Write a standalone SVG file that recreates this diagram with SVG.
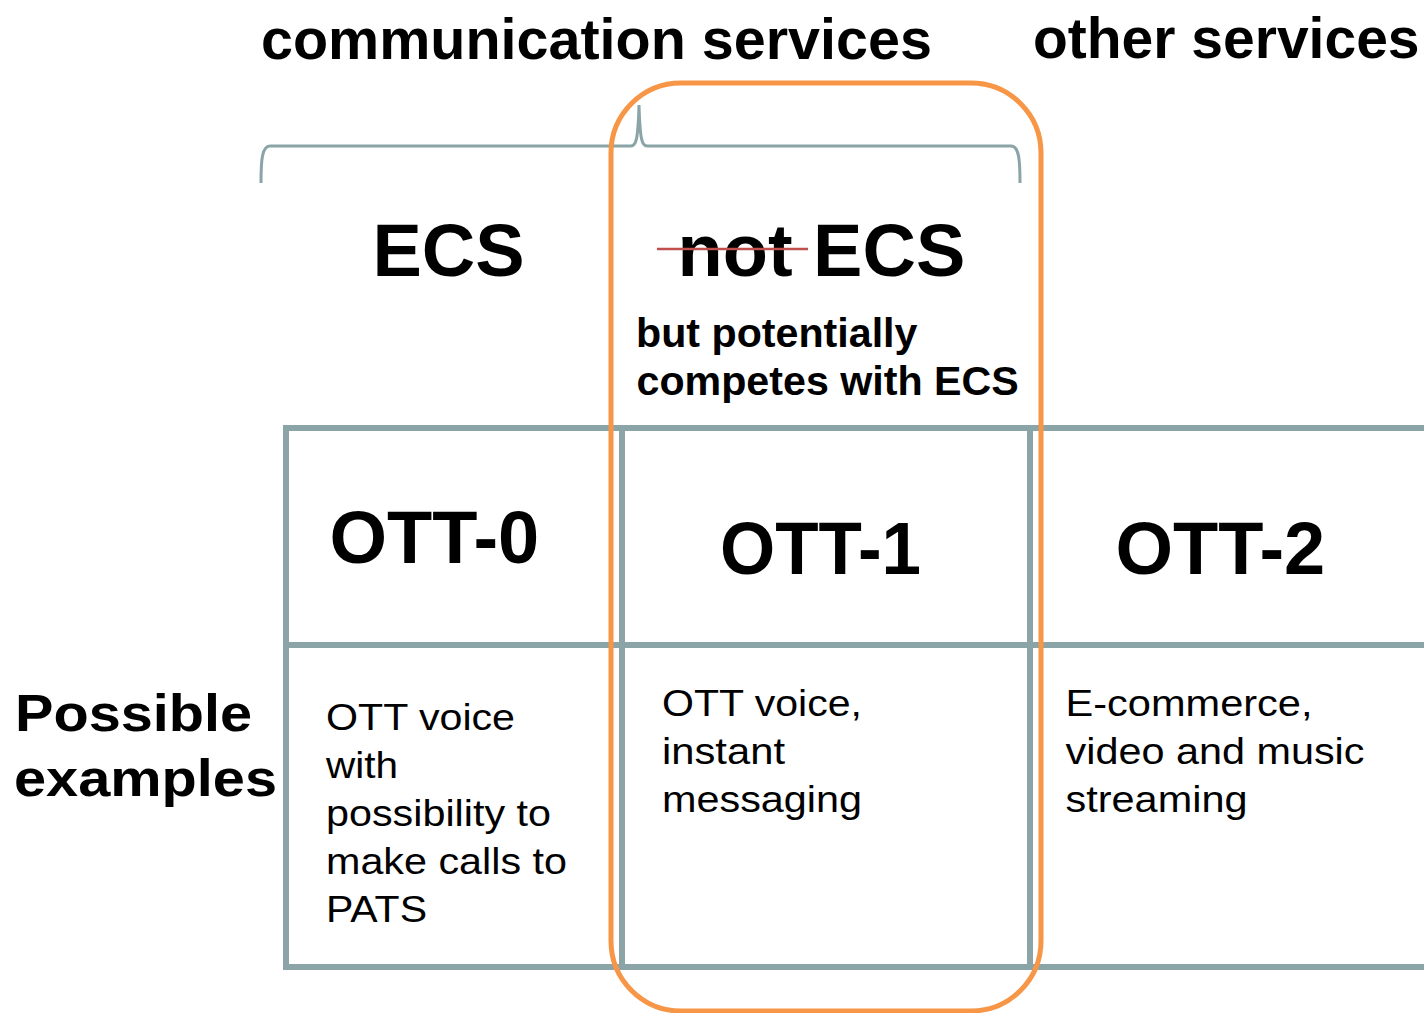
<svg xmlns="http://www.w3.org/2000/svg" width="1424" height="1013" viewBox="0 0 1424 1013">
<style>
text{font-family:"Liberation Sans",Arial,sans-serif;fill:#000}
.h{font-weight:bold;font-size:57px}
.big{font-weight:bold;font-size:74px}
.sub{font-weight:bold;font-size:41.2px}
.pe{font-weight:bold;font-size:52px}
.body{font-size:37px}
.cell{fill:none;stroke:#8aa4a7;stroke-width:6}
</style>
<rect width="1424" height="1013" fill="#fff"/>
<g id="headers">
<text class="h" x="261" y="59" textLength="671" lengthAdjust="spacingAndGlyphs">communication services</text>
<text class="h" x="1033" y="58">other services</text>
</g>
<g id="ecs"><text class="big" x="372.5" y="276">ECS</text></g>
<g id="not-ecs">
<text class="big" x="677.5" y="276">not ECS</text>
<line x1="657" y1="249" x2="808" y2="249" stroke="#c0504d" stroke-width="2.5"/>
<text class="sub" x="636" y="347">but potentially</text>
<text class="sub" x="636.5" y="395">competes with ECS</text>
</g>
<g id="possible-examples">
<text class="pe" x="15" y="731" textLength="237" lengthAdjust="spacingAndGlyphs">Possible</text>
<text class="pe" x="14" y="796" textLength="263" lengthAdjust="spacingAndGlyphs">examples</text>
</g>
<g id="ott0">
<rect class="cell" x="286" y="428" width="336" height="217"/>
<text class="big" x="329.5" y="563">OTT-0</text>
</g>
<g id="ott0-examples">
<rect class="cell" x="286" y="645" width="336" height="322"/>
<text class="body" x="326" y="730" textLength="189" lengthAdjust="spacingAndGlyphs">OTT voice</text>
<text class="body" x="326" y="778" textLength="72" lengthAdjust="spacingAndGlyphs">with</text>
<text class="body" x="326" y="826" textLength="225" lengthAdjust="spacingAndGlyphs">possibility to</text>
<text class="body" x="326" y="874" textLength="241" lengthAdjust="spacingAndGlyphs">make calls to</text>
<text class="body" x="326" y="922" textLength="101" lengthAdjust="spacingAndGlyphs">PATS</text>
</g>
<g id="ott1">
<rect class="cell" x="622" y="428" width="408" height="217"/>
<text class="big" x="720" y="574" textLength="201" lengthAdjust="spacingAndGlyphs">OTT-1</text>
</g>
<g id="ott1-examples">
<rect class="cell" x="622" y="645" width="408" height="322"/>
<text class="body" x="662" y="716" textLength="200" lengthAdjust="spacingAndGlyphs">OTT voice,</text>
<text class="body" x="662" y="764" textLength="123" lengthAdjust="spacingAndGlyphs">instant</text>
<text class="body" x="662" y="812" textLength="200" lengthAdjust="spacingAndGlyphs">messaging</text>
</g>
<g id="ott2">
<rect class="cell" x="1030" y="428" width="420" height="217"/>
<text class="big" x="1115.5" y="574">OTT-2</text>
</g>
<g id="ott2-examples">
<rect class="cell" x="1030" y="645" width="420" height="322"/>
<text class="body" x="1065.5" y="716" textLength="247" lengthAdjust="spacingAndGlyphs">E-commerce,</text>
<text class="body" x="1065.5" y="764" textLength="299" lengthAdjust="spacingAndGlyphs">video and music</text>
<text class="body" x="1065.5" y="812" textLength="182" lengthAdjust="spacingAndGlyphs">streaming</text>
</g>
<g id="connectors">
<path d="M261,183 C261,160 262,146 270,146 L631,146 C636,146 638,140 639,105 C640,140 642,146 647,146 L1011,146 C1019,146 1020,160 1020,183" fill="none" stroke="#8aa4a7" stroke-width="3"/>
<rect x="611" y="83" width="430" height="928" rx="70" ry="70" fill="none" stroke="#f79646" stroke-width="5"/>
</g>
</svg>
